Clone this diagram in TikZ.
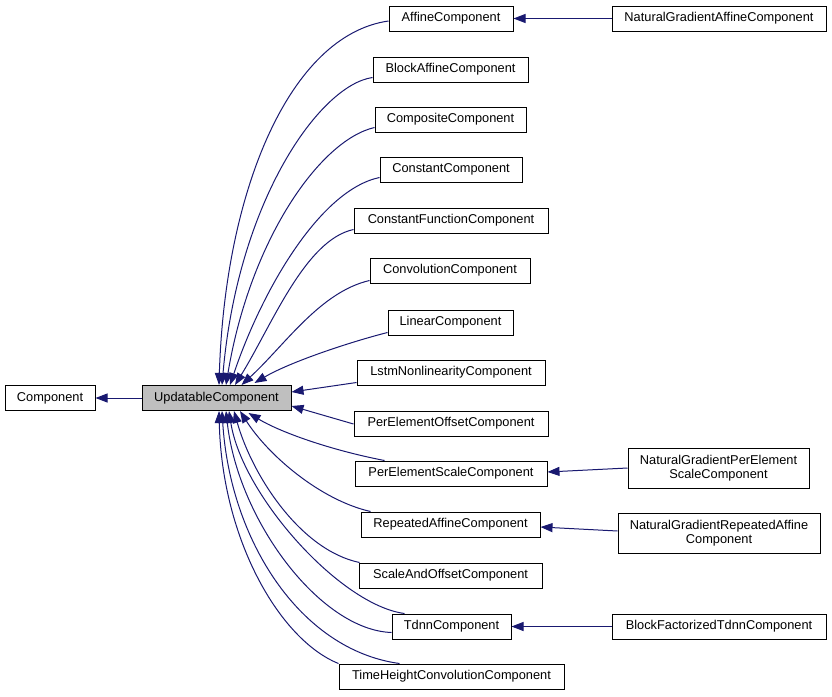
\documentclass[tikz,border=0pt]{standalone}
\usepackage{fontspec}
\setmainfont{Liberation Sans}
\usetikzlibrary{arrows.meta,calc}
\definecolor{edgeblue}{RGB}{25,25,112}
\definecolor{boxgray}{RGB}{191,191,191}
\begin{document}
\begin{tikzpicture}[x=1pt,y=-1pt,
  box/.style={draw=black,line width=1pt,inner sep=0pt,minimum height=25pt,align=center,
    font=\fontsize{12.8}{14.5}\selectfont},
  edge/.style={draw=edgeblue,line width=1pt,-{Triangle[length=12pt,width=9pt]}}]
\useasboundingbox (0,0) rectangle (832,696);
% nodes
\node[box,minimum width=90pt] (comp) at (50,398) {Component};
\node[box,fill=boxgray,minimum width=149pt] (upd) at (216.5,398) {UpdatableComponent};
\node[box,minimum width=124pt] (aff) at (451,18.5) {AffineComponent};
\node[box,minimum width=214pt] (ngaff) at (719,18.5) {NaturalGradientAffineComponent};
\node[box,minimum width=155pt] (block) at (450.5,69.5) {BlockAffineComponent};
\node[box,minimum width=151pt] (compos) at (450.5,119.5) {CompositeComponent};
\node[box,minimum width=142pt] (const) at (451,169.5) {ConstantComponent};
\node[box,minimum width=194pt] (cfunc) at (451,220.5) {ConstantFunctionComponent};
\node[box,minimum width=160pt] (conv) at (450,270.5) {ConvolutionComponent};
\node[box,minimum width=125pt] (lin) at (450.5,322.5) {LinearComponent};
\node[box,minimum width=188pt] (lstm) at (451,372.5) {LstmNonlinearityComponent};
\node[box,minimum width=194pt] (peo) at (451,423.5) {PerElementOffsetComponent};
\node[box,minimum width=192pt] (pes) at (451,473.5) {PerElementScaleComponent};
\node[box,minimum width=181pt,minimum height=40pt] (ngpes) at (718.5,468) {NaturalGradientPerElement\\ScaleComponent};
\node[box,minimum width=179pt] (rep) at (450.5,524.5) {RepeatedAffineComponent};
\node[box,minimum width=202pt,minimum height=40pt] (ngrep) at (719,533) {NaturalGradientRepeatedAffine\\Component};
\node[box,minimum width=183pt] (sao) at (450.5,575.5) {ScaleAndOffsetComponent};
\node[box,minimum width=119pt] (tdnn) at (451.5,626.5) {TdnnComponent};
\node[box,minimum width=214pt] (bft) at (719,626.5) {BlockFactorizedTdnnComponent};
\node[box,minimum width=225pt] (thc) at (451.5,676.5) {TimeHeightConvolutionComponent};
% straight edges
\draw[edge] (upd.west) -- (comp.east);
\draw[edge] (ngaff.west) -- (aff.east);
\draw[edge] (ngpes.west) -- ($(pes.east)+(0,-1.5)$);
\draw[edge] ($(ngrep.west)+(0,-2)$) -- ($(rep.east)+(0,2.5)$);
\draw[edge] (bft.west) -- (tdnn.east);
% curved edges to the top of UpdatableComponent
\draw[edge] ($(aff.west)+(0,2.5)$) .. controls (290,35) and (225,190) .. ($(upd.north)+(2.5,0)$);
\draw[edge] ($(block.west)+(0,8)$) .. controls (320,85) and (238,200) .. ($(upd.north)+(5.5,0)$);
\draw[edge] ($(compos.west)+(0,8)$) .. controls (320,140) and (250,240) .. ($(upd.north)+(9.5,0)$);
\draw[edge] ($(const.west)+(0,8)$) .. controls (320,190) and (262,290) .. ($(upd.north)+(13.5,0)$);
\draw[edge] ($(cfunc.west)+(0,9)$) .. controls (305,240) and (272,325) .. ($(upd.north)+(18.5,0)$);
\draw[edge] ($(conv.west)+(0,10)$) .. controls (320,292) and (285,345) .. ($(upd.north)+(25,0)$);
\draw[edge] ($(lin.west)+(0,10)$) .. controls (350,342) and (290,362) .. ($(upd.north)+(38,-2)$);
% edges to the right side
\draw[edge] ($(lstm.west)+(0,10)$) -- ($(upd.east)+(0,-6)$);
\draw[edge] ($(peo.west)+(0,0.5)$) -- ($(upd.east)+(0,8)$);
% curved edges to the bottom of UpdatableComponent
\draw[edge] ($(pes.north west)+(30,0)$) .. controls (330,450) and (280,432) .. ($(upd.south)+(32,2)$);
\draw[edge] ($(rep.north west)+(10,0)$) .. controls (320,500) and (268,455) .. ($(upd.south)+(23.5,0)$);
\draw[edge] ($(sao.north west)+(1,0)$) .. controls (300,550) and (252,475) .. ($(upd.south)+(17.5,0)$);
\draw[edge] ($(tdnn.north west)+(13,0)$) .. controls (340,605) and (242,495) .. ($(upd.south)+(12.5,0)$);
\draw[edge] ($(tdnn.west)+(0,6)$) .. controls (320,630) and (238,520) .. ($(upd.south)+(9.5,0)$);
\draw[edge] ($(thc.north west)+(61,0)$) .. controls (300,650) and (230,540) .. ($(upd.south)+(5.5,0)$);
\draw[edge] (thc.north west) .. controls (280,640) and (222,540) .. ($(upd.south)+(2.5,0)$);
\end{tikzpicture}
\end{document}
